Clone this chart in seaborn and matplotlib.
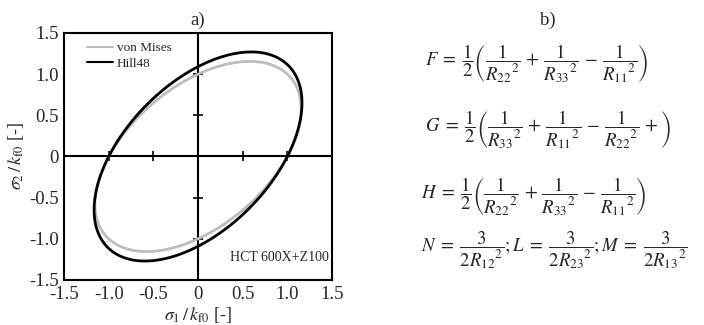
import numpy as np
import pandas as pd
import matplotlib
matplotlib.use("Agg")
import matplotlib.pyplot as plt
import seaborn as sns

# ---- data ----
# yield locus coefficients: a*s1^2 - 2*b*s1*s2 + c*s2^2 = 1
series_names = ["von Mises", "Hill48"]
vm_coeffs = [1.0, 0.5, 1.0]
hill_coeffs = [1.0, 0.469, 0.84]
series_colors = ["#bdbdbd", "#000000"]
tick_values = [-1.5, -1.0, -0.5, 0, 0.5, 1.0, 1.5]
tick_labels = ["-1.5", "-1.0", "-0.5", "0", "0.5", "1.0", "1.5"]
inner_ticks = [-1.0, -0.5, 0.5, 1.0]
material = "HCT 600X+Z100"

sns.set_theme(style="white")
plt.rcParams["font.family"] = ["Liberation Serif", "DejaVu Serif"]
plt.rcParams["mathtext.fontset"] = "stix"

def locus(coeffs, name):
    a, b, c = coeffs
    t = np.linspace(0, 2 * np.pi, 721)
    d = np.cos(t) ** 2 * a - 2 * b * np.cos(t) * np.sin(t) + c * np.sin(t) ** 2
    r = 1 / np.sqrt(d)
    return pd.DataFrame({"s1": r * np.cos(t), "s2": r * np.sin(t),
                         "name": name, "order": np.arange(len(t))})

df = pd.concat([locus(vm_coeffs, series_names[0]), locus(hill_coeffs, series_names[1])])

fig = plt.figure(figsize=(7.04, 3.25), dpi=100)
ax = fig.add_axes([0.091, 0.1385, 0.3806, 0.76])

ax.axhline(0, color="black", lw=1.5, zorder=1)
ax.axvline(0, color="black", lw=1.5, zorder=1)
ax.plot(inner_ticks, [0] * len(inner_ticks), ls="none", marker="|", ms=7, mew=1.2, color="black", zorder=1)
ax.plot([0] * len(inner_ticks), inner_ticks, ls="none", marker="_", ms=7, mew=1.2, color="black", zorder=1)

sns.lineplot(data=df, x="s1", y="s2", hue="name", sort=False, estimator=None,
             units="name", palette=series_colors, hue_order=series_names,
             linewidth=2.0, ax=ax, zorder=3)

ax.set_xlim(-1.5, 1.5)
ax.set_ylim(-1.5, 1.5)
ax.set_xticks(tick_values)
ax.set_xticklabels(tick_labels)
ax.set_yticks(tick_values)
ax.set_yticklabels(tick_labels)
ax.tick_params(axis="both", length=0, labelsize=13.5, pad=4)
for s in ax.spines.values():
    s.set_visible(True)
    s.set_color("black")
    s.set_linewidth(1.5)

ax.set_xlabel(r"$\sigma_1\,/\,k_{\mathrm{f0}}$ [-]", fontsize=13, labelpad=2)
ax.set_ylabel(r"$\sigma_2\,/\,k_{\mathrm{f0}}$ [-]", fontsize=13, labelpad=2)
ax.set_title("a)", fontsize=13.5, pad=6)

leg = ax.legend(loc="upper left", frameon=False, fontsize=9.5, handlelength=2.0,
                handletextpad=0.3, borderaxespad=0.3, labelspacing=0.25,
                bbox_to_anchor=(0.05, 1.0))
for h in leg.get_lines():
    h.set_linewidth(1.5)

ax.text(0.99, 0.09, material, transform=ax.transAxes, ha="right", va="center", fontsize=10)

# ---- panel b: formulas ----
fig.text(548 / 704, 1 - 20 / 325, "b)", ha="center", va="center", fontsize=13.5)
fs = 13.5
fF = r"$F\;=\;\dfrac{1}{2}\left(\dfrac{1}{{R_{22}}^{2}}\,+\,\dfrac{1}{{R_{33}}^{2}}\,-\,\dfrac{1}{{R_{11}}^{2}}\right)$"
fG = r"$G\;=\;\dfrac{1}{2}\left(\dfrac{1}{{R_{33}}^{2}}\,+\,\dfrac{1}{{R_{11}}^{2}}\,-\,\dfrac{1}{{R_{22}}^{2}}\,+\right)$"
fH = r"$H\;=\;\dfrac{1}{2}\left(\dfrac{1}{{R_{22}}^{2}}\,+\,\dfrac{1}{{R_{33}}^{2}}\,-\,\dfrac{1}{{R_{11}}^{2}}\right)$"
fN = r"$N\;=\;\dfrac{3}{2{R_{12}}^{2}};L\;=\;\dfrac{3}{2{R_{23}}^{2}};M\;=\;\dfrac{3}{2{R_{13}}^{2}}$"
fig.text(425 / 704, 1 - 64 / 325, fF, ha="left", va="center", fontsize=fs)
fig.text(425 / 704, 1 - 130 / 325, fG, ha="left", va="center", fontsize=fs)
fig.text(421 / 704, 1 - 197 / 325, fH, ha="left", va="center", fontsize=fs)
fig.text(421 / 704, 1 - 250 / 325, fN, ha="left", va="center", fontsize=fs)

fig.savefig("out.png", dpi=100)
